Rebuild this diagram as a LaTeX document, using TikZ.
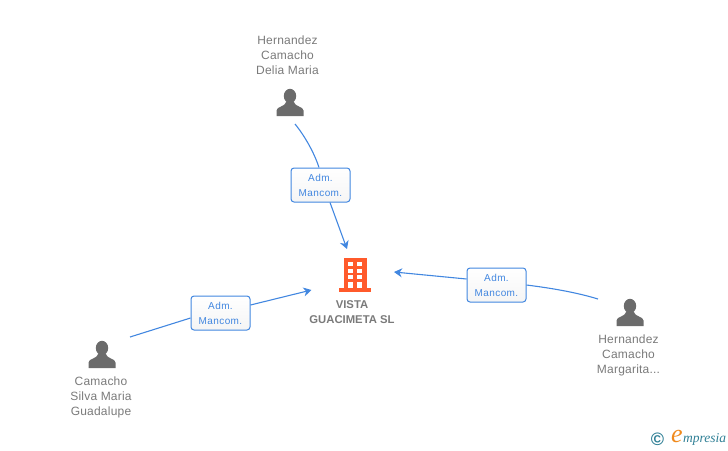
\documentclass[tikz,border=0pt]{standalone}
\usepackage{fontspec}
\setmainfont{Liberation Sans}
\newfontfamily\spaced[LetterSpace=4]{Liberation Sans}
\newfontfamily\lessspaced[LetterSpace=1.8]{Liberation Sans}
\newfontfamily\logofont{Liberation Serif}
\usetikzlibrary{arrows.meta}
\definecolor{linkblue}{HTML}{4287E0}
\definecolor{txtgray}{HTML}{7A7A7A}
\definecolor{icongray}{HTML}{6B6B6B}
\definecolor{bldorange}{HTML}{FF5A2B}
\definecolor{logoteal}{HTML}{2F7F95}
\definecolor{logoorange}{HTML}{F08A1D}
\tikzset{
  x=1pt,y=-1pt,
  person/.style={font=\lessspaced\fontsize{12}{15}\selectfont,text=txtgray,align=center,inner sep=0pt},
  company/.style={font=\fontsize{11.3}{15}\selectfont\bfseries,text=txtgray,align=center,inner sep=0pt},
  rolebox/.style={draw=linkblue,line width=1pt,rounded corners=3pt,top color=white,bottom color=black!4,
    minimum width=59pt,minimum height=34pt,inner sep=0pt,align=center,text=linkblue,
    font=\spaced\fontsize{10}{15}\selectfont},
  link/.style={draw=linkblue,line width=1.1pt},
  tip/.style={-{Stealth[length=8pt,width=9pt,inset=2.5pt]}},
  icon/.pic={
    \fill[icongray] (0,-6.5) circle[x radius=6.2,y radius=7.2];
    \fill[icongray] (-13.5,13.5) -- (-13.5,8) .. controls (-13.5,4) and (-5,4.5) .. (-3.5,-1) -- (3.5,-1)
       .. controls (5,4.5) and (13.5,4) .. (13.5,8) -- (13.5,13.5) -- cycle;
  }
}
\begin{document}
\begin{tikzpicture}
\useasboundingbox (0,0) rectangle (728,450);
% icons
\pic at (290,102.5) {icon};
\pic at (630,312.5) {icon};
\pic at (102,354.5) {icon};
% building
\fill[bldorange] (344,258) rectangle (367,288);
\fill[bldorange] (339,288) rectangle (371,291.5);
\foreach \c in {348,357.3}{
  \foreach \r in {262,268.5,275}{
    \fill[white] (\c,\r) rectangle ++(4.7,4.2);
  }
  \fill[white] (\c,282) rectangle ++(4.7,6);
}
% labels
\node[person] (p1) at (287.5,55) {Hernandez\\Camacho\\Delia Maria};
\node[person] (p2) at (628.5,355.5) {Hernandez\\Camacho\\Margarita...};
\node[person] (p3) at (101,397) {Camacho\\Silva Maria\\Guadalupe};
\node[company] (co) at (352,312) {VISTA\\GUACIMETA SL};
% role boxes
\node[rolebox] (b1) at (320.5,185) {Adm.\\Mancom.};
\node[rolebox] (b2) at (220.5,313) {Adm.\\Mancom.};
\node[rolebox] (b3) at (496.5,285) {Adm.\\Mancom.};
% free ends
\coordinate (s1) at (295,124);
\coordinate (e1) at (347,249);
\coordinate (s2) at (130,337);
\coordinate (e2) at (311.5,290);
\coordinate (s3) at (598,299);
\coordinate (e3) at (394,272);
% connectors
\draw[link] (s1) .. controls (304,135) and (314,152) .. (b1.north -| 319,0);
\draw[link,tip] (b1.south -| 330,0) -- (e1);
\draw[link] (s2) -- (b2.west |- 0,318);
\draw[link,tip] (b2.east |- 0,305) -- (e2);
\draw[link] (s3) .. controls (575,292) and (550,288) .. (b3.east |- 0,285);
\draw[link,tip] (b3.west |- 0,279) -- (e3);
% logo
\node[text=logoteal,inner sep=0pt,font=\fontsize{18}{18}\selectfont\bfseries] (lc) at (657.5,439) {©};
\node[text=logoorange,inner sep=0pt,font=\logofont\fontsize{26}{26}\selectfont\itshape] (le) at (677,436) {e};
\node[text=logoteal,inner sep=0pt,anchor=west,font=\logofont\fontsize{13.5}{13.5}\selectfont\itshape] (lm) at (683,439) {mpresia};
\end{tikzpicture}
\end{document}
